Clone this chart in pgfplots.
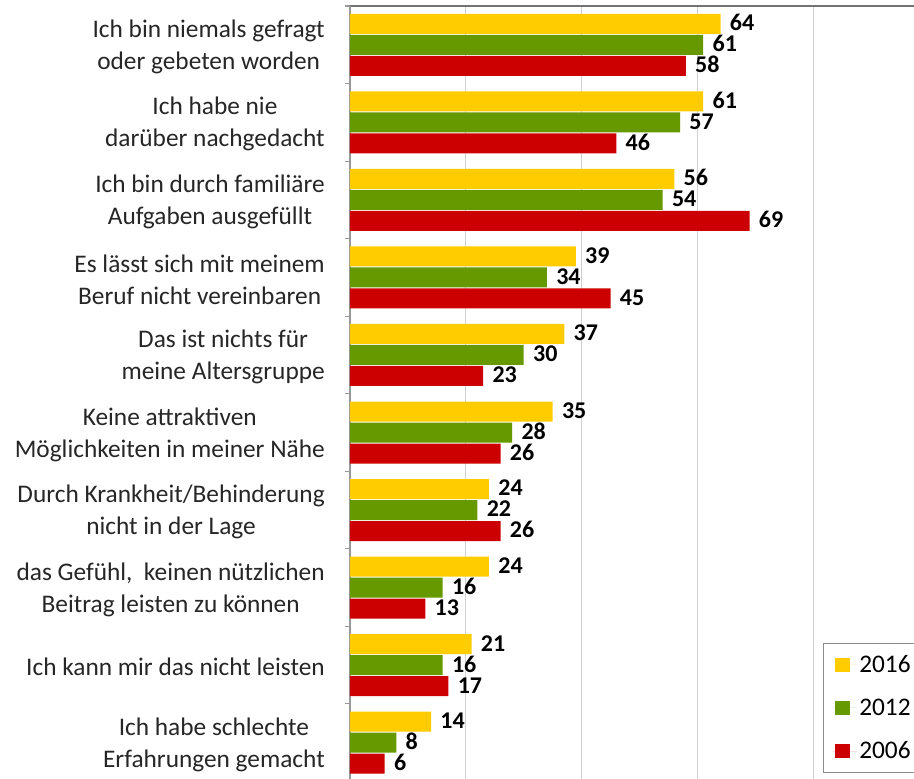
\documentclass[border=0pt]{standalone}
\usepackage{pgfplots}
\pgfplotsset{compat=1.18}
\usepackage{fontspec}
\setmainfont{Carlito}
\definecolor{cy}{HTML}{FFCC00}
\definecolor{cg}{HTML}{669900}
\definecolor{cr}{HTML}{CC0000}
\begin{document}
\begin{tikzpicture}
\begin{axis}[
  scale only axis, width=423pt, height=581.6pt,
  xmin=0, xmax=97.4, ymin=-0.5, ymax=9.5,
  xbar, bar width=15pt,
  /pgf/number format/assume math mode=true,
  axis y line*=left, axis x line*=top,
  x axis line style={draw=black!55, line width=1pt},
  y axis line style={draw=black!40, line width=0.8pt},
  xtick={20,40,60,80}, xticklabels={},
  xmajorgrids, grid style={draw=black!18, line width=0.8pt},
  major tick length=0pt,
  ytick={0,...,9},
  yticklabels={
    {Ich habe schlechte\\Erfahrungen gemacht},
    {Ich kann mir das nicht leisten},
    {das Gefühl,\ \ keinen nützlichen\\Beitrag leisten zu können},
    {Durch Krankheit/Behinderung\\nicht in der Lage},
    {Keine attraktiven\\Möglichkeiten in meiner Nähe},
    {Das ist nichts für\\meine Altersgruppe},
    {Es lässt sich mit meinem\\Beruf nicht vereinbaren},
    {Ich bin durch familiäre\\Aufgaben ausgefüllt},
    {Ich habe nie\\darüber nachgedacht},
    {Ich bin niemals gefragt\\oder gebeten worden}},
  yticklabel style={align=center, inner sep=0pt, xshift=-18.75pt, yshift=-1.5pt,
    font=\fontsize{19}{24}\selectfont, text=black!85},
  extra y ticks={-0.5,0.5,...,9.5}, extra y tick labels={},
  extra y tick style={major tick length=4pt, tick align=outside,
    tick style={draw=black!40, line width=0.8pt}},
  nodes near coords,
  nodes near coords style={font=\bfseries\fontsize{18}{20}\selectfont,
    anchor=west, xshift=3.5pt, yshift=-2pt, inner ysep=0pt, text height=0.64em,
    text depth=0pt, text=black},
  legend style={at={(axis description cs:0.8387,0.011)}, anchor=south west,
    draw=black!45, font=\fontsize{19}{22}\selectfont, row sep=14.3pt,
    inner xsep=7pt, inner ysep=7pt},
  legend cell align=left,
  legend image code/.code={\fill[#1] (1.5pt,-5.25pt) rectangle (12.75pt,5.25pt);
    \path (0pt,0pt) -- (18pt,0pt);},
]
\addplot[fill=cy, draw=none, bar shift=15.75pt] coordinates {
 (14,0) (21,1) (24,2) (24,3) (35,4) (37,5) (39,6) (56,7) (61,8) (64,9)};
\addplot[fill=cg, draw=none, bar shift=0pt] coordinates {
 (8,0) (16,1) (16,2) (22,3) (28,4) (30,5) (34,6) (54,7) (57,8) (61,9)};
\addplot[fill=cr, draw=none, bar shift=-15.75pt] coordinates {
 (6,0) (17,1) (13,2) (26,3) (26,4) (23,5) (45,6) (69,7) (46,8) (58,9)};
\legend{2016,2012,2006}
\coordinate (bl) at (rel axis cs:0,0);
\coordinate (tr) at (rel axis cs:1,1);
\end{axis}
\pgfresetboundingbox
\useasboundingbox ([xshift=-262.5pt,yshift=1.9pt]bl) rectangle ([yshift=4.5pt]tr);
\end{tikzpicture}
\end{document}
